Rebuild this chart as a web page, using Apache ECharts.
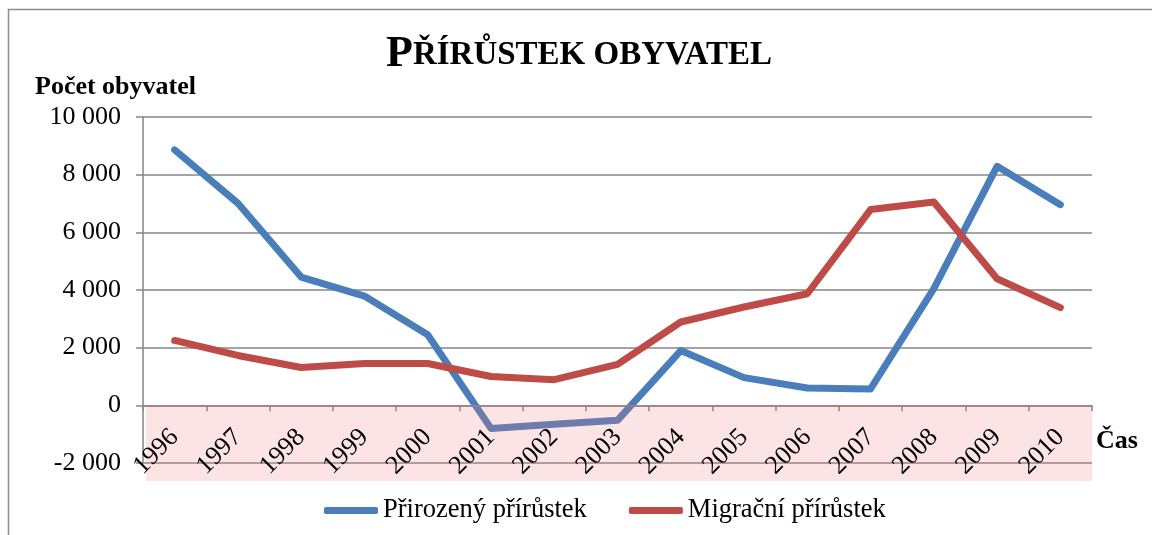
<!DOCTYPE html>
<html>
<head>
<meta charset="utf-8">
<script src="https://cdn.jsdelivr.net/npm/echarts@6/dist/echarts.min.js"></script>
<style>
  html, body { margin: 0; padding: 0; background: #fff; }
  #chart { width: 1152px; height: 535px; }
</style>
</head>
<body>
<div id="chart"></div>
<script>
// data
var years = ['1996', '1997', '1998', '1999', '2000', '2001', '2002', '2003',
             '2004', '2005', '2006', '2007', '2008', '2009', '2010'];
var prirozeny = [8860, 7010, 4450, 3790, 2450, -800, -660, -520,
                 1900, 960, 600, 570, 4050, 8290, 6960];
var migracni = [2250, 1730, 1310, 1450, 1450, 1000, 890, 1420,
                2890, 3410, 3870, 6790, 7050, 4390, 3390];
var yTicks = [-2000, 0, 2000, 4000, 6000, 8000, 10000];

var serif = "'Liberation Serif', 'Times New Roman', serif";
var gridL = 143, gridR = 60, gridT = 117, gridB = 72;

function fmt(v) {
  var s = String(Math.abs(v)).replace(/\B(?=(\d{3})+(?!\d))/g, ' ');
  return (v < 0 ? '-' : '') + s;
}

var chart = echarts.init(document.getElementById('chart'));
chart.setOption({
  animation: false,
  backgroundColor: '#fff',
  title: [
    {
      text: '{big|P}{sm|ŘÍRŮSTEK OBYVATEL}',
      left: 381,
      top: 28,
      textStyle: {
        rich: {
          big: { fontFamily: serif, fontWeight: 'bold', fontSize: 44, color: '#000' },
          sm: { fontFamily: serif, fontWeight: 'bold', fontSize: 33, color: '#000' }
        }
      }
    },
    {
      text: 'Počet obyvatel',
      left: 30, top: 69,
      textStyle: { fontFamily: serif, fontWeight: 'bold', fontSize: 26, color: '#000' }
    },
    {
      text: 'Čas',
      left: 1091, top: 423,
      textStyle: { fontFamily: serif, fontWeight: 'bold', fontSize: 26, color: '#000' }
    }
  ],
  legend: {
    bottom: 6,
    left: 319,
    itemWidth: 54,
    itemHeight: 7,
    itemGap: 42,
    icon: 'roundRect',
    textStyle: { fontFamily: serif, fontSize: 26.5, color: '#000' },
    data: ['Přirozený přírůstek', 'Migrační přírůstek']
  },
  grid: { left: gridL, right: gridR, top: gridT, bottom: gridB, outerBoundsMode: 'none' },
  xAxis: {
    type: 'category',
    data: years,
    boundaryGap: true,
    z: 10,
    axisLine: { onZero: false, lineStyle: { color: '#9a8282', width: 1.5 } },
    axisTick: { show: true, length: 6, lineStyle: { color: '#9a8282', width: 1.5 } },
    axisLabel: {
      rotate: 45, margin: 28, interval: 0,
      fontFamily: serif, fontSize: 26, color: '#000'
    },
    splitLine: { show: false }
  },
  yAxis: {
    type: 'value',
    min: yTicks[0],
    max: yTicks[yTicks.length - 1],
    interval: 2000,
    axisLine: { show: true, lineStyle: { color: '#868686', width: 1.5 } },
    axisTick: { show: true, length: 7, lineStyle: { color: '#868686', width: 1.5 } },
    axisLabel: {
      margin: 22, formatter: fmt,
      fontFamily: serif, fontSize: 26, color: '#000'
    },
    splitLine: { lineStyle: { color: '#868686', width: 1.5 } }
  },
  series: [
    {
      name: 'Přirozený přírůstek',
      type: 'line',
      data: prirozeny,
      symbol: 'none',
      color: '#4A7EBB',
      lineStyle: { width: 7, cap: 'round', join: 'round' }
    },
    {
      name: 'Migrační přírůstek',
      type: 'line',
      data: migracni,
      symbol: 'none',
      color: '#BE4B48',
      lineStyle: { width: 7, cap: 'round', join: 'round' }
    }
  ]
});

// move the category axis up to the zero line
var y0 = chart.convertToPixel({ yAxisIndex: 0 }, 0);
var yMin = chart.convertToPixel({ yAxisIndex: 0 }, yTicks[0]);
chart.setOption({ xAxis: { offset: y0 - yMin } });

// pink band below zero and the outer frame
y0 = chart.convertToPixel({ yAxisIndex: 0 }, 0);
yMin = chart.convertToPixel({ yAxisIndex: 0 }, yTicks[0]);
chart.setOption({
  graphic: [
    {
      type: 'rect', z: 5, silent: true,
      shape: { x: gridL + 3, y: y0, width: 1152 - gridR - gridL - 3, height: yMin - y0 + 18 },
      style: { fill: 'rgba(245,120,120,0.2)' }
    },
    {
      type: 'rect', z: 20, silent: true,
      shape: { x: 8.5, y: 9.5, width: 1200, height: 600 },
      style: { fill: 'none', stroke: '#8c8c8c', lineWidth: 1.5 }
    }
  ]
});
</script>
</body>
</html>
